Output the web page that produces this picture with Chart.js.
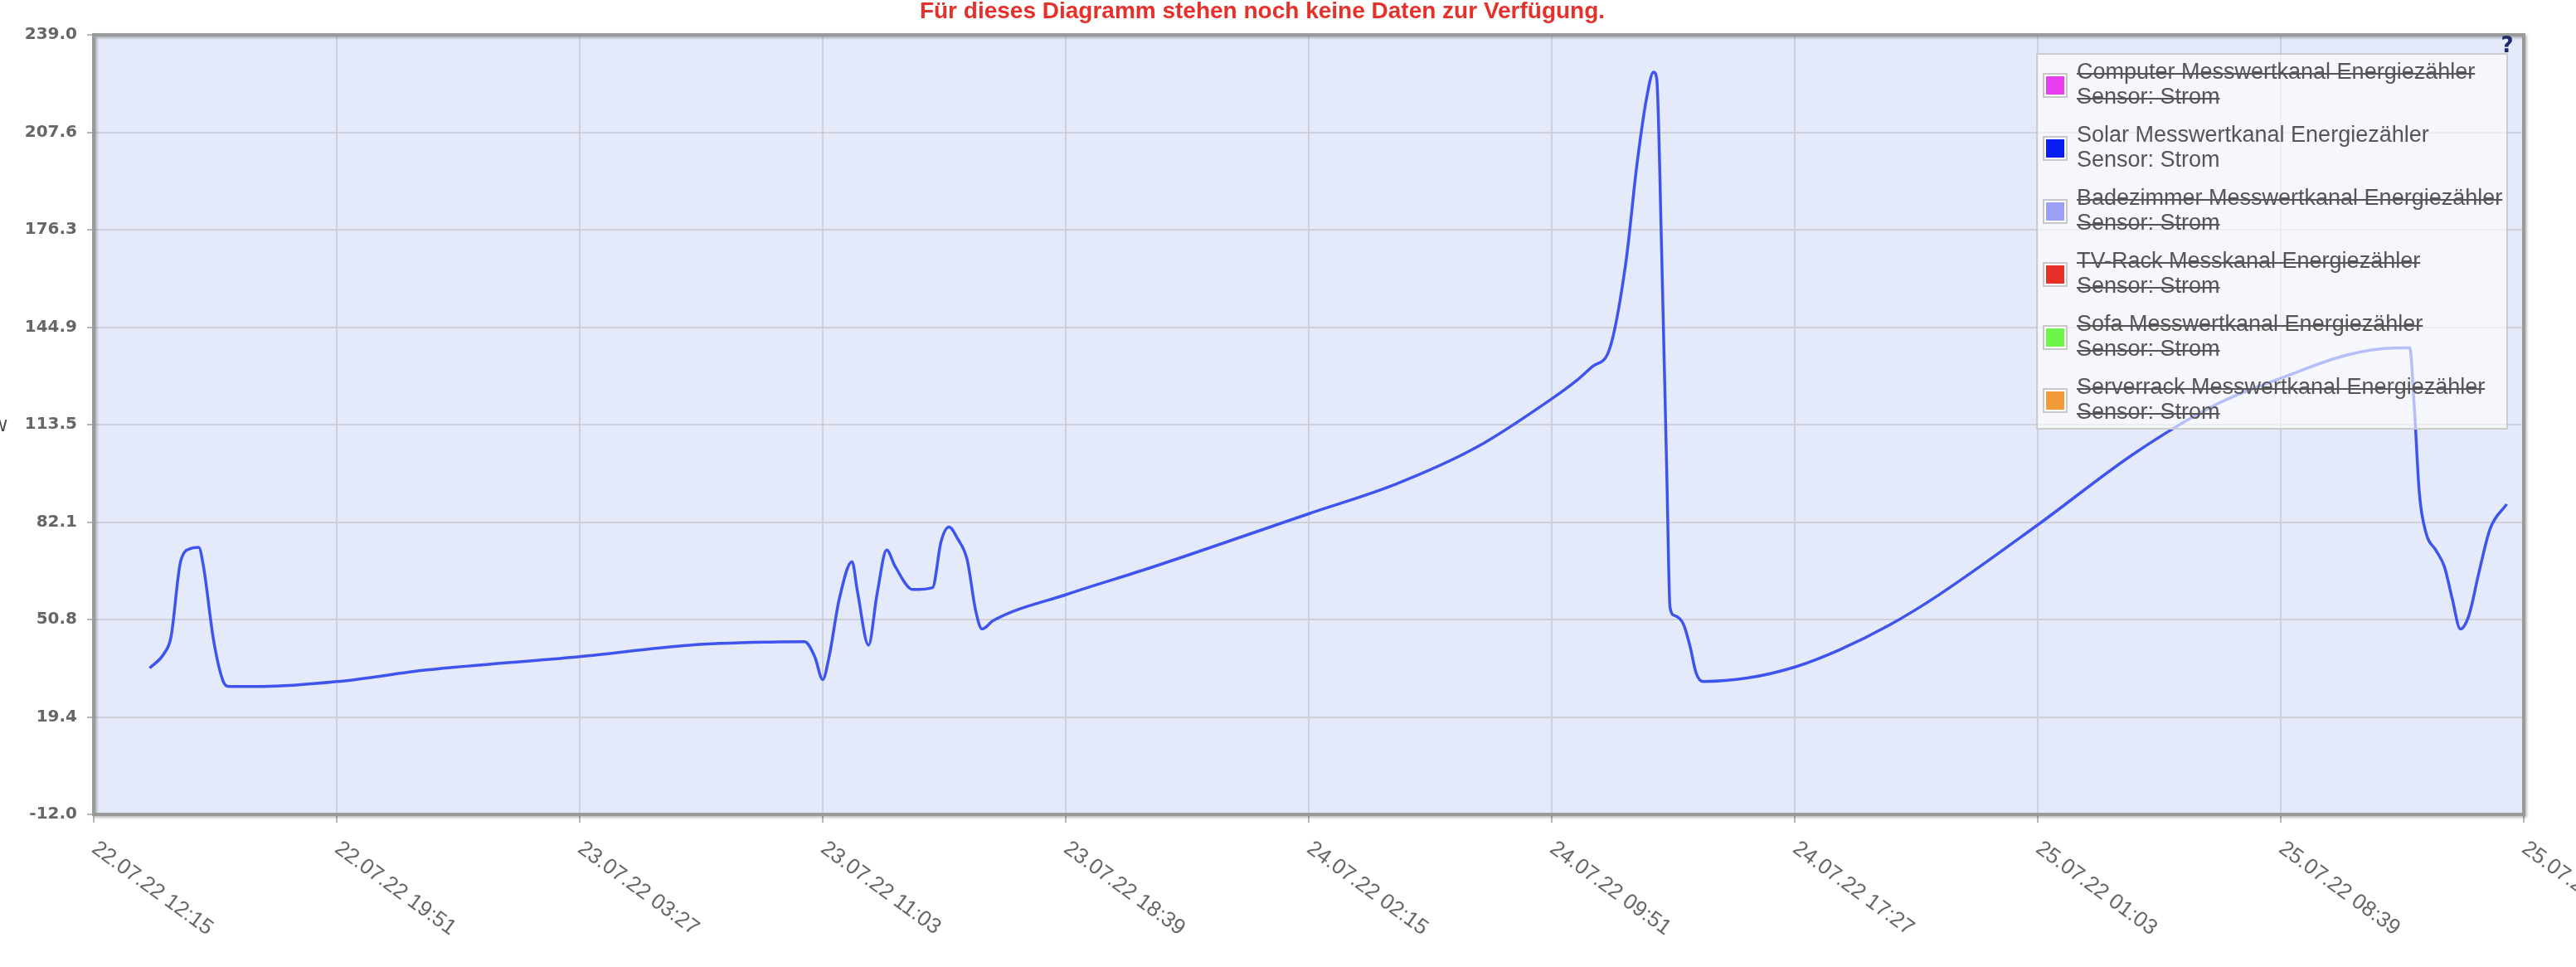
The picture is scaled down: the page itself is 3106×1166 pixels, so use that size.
<!DOCTYPE html>
<html>
<head>
<meta charset="utf-8">
<title>Energiezähler</title>
<script src="https://cdn.jsdelivr.net/npm/chart.js@4.4.0/dist/chart.umd.min.js"></script>
<style>
  html, body { margin: 0; padding: 0; background: #fff; overflow: hidden; }
  #chart { display: block; }
</style>
</head>
<body>
<canvas id="chart" width="3106" height="1166"></canvas>
<script>
// Solar channel, power in W
const times = [
  '22.07.22 14:00', '22.07.22 14:27', '22.07.22 14:40', '22.07.22 14:58', '22.07.22 15:17',
  '22.07.22 15:32', '22.07.22 15:41', '22.07.22 16:00', '22.07.22 16:18', '22.07.22 16:28',
  '22.07.22 17:32', '22.07.22 19:54', '22.07.22 22:40', '23.07.22 03:27', '23.07.22 06:53',
  '23.07.22 09:27', '23.07.22 10:29', '23.07.22 10:48', '23.07.22 11:03', '23.07.22 11:15',
  '23.07.22 11:34', '23.07.22 11:58', '23.07.22 12:08', '23.07.22 12:29', '23.07.22 12:45',
  '23.07.22 13:03', '23.07.22 13:19', '23.07.22 13:52', '23.07.22 14:29', '23.07.22 14:45',
  '23.07.22 15:00', '23.07.22 15:16', '23.07.22 15:34', '23.07.22 15:50', '23.07.22 16:02',
  '23.07.22 16:23', '23.07.22 18:42', '23.07.22 21:16', '24.07.22 02:15', '24.07.22 04:58',
  '24.07.22 07:32', '24.07.22 09:51', '24.07.22 10:37', '24.07.22 11:08', '24.07.22 11:39',
  '24.07.22 12:10', '24.07.22 12:31', '24.07.22 12:50', '24.07.22 13:02', '24.07.22 13:08',
  '24.07.22 13:17', '24.07.22 13:27', '24.07.22 13:33', '24.07.22 13:42', '24.07.22 13:58',
  '24.07.22 14:10', '24.07.22 14:22', '24.07.22 14:35', '24.07.22 15:58', '24.07.22 17:30',
  '24.07.22 18:50', '24.07.22 20:23', '24.07.22 21:55', '25.07.22 01:06', '25.07.22 04:05',
  '25.07.22 06:39', '25.07.22 08:42', '25.07.22 10:45', '25.07.22 12:18', '25.07.22 12:41',
  '25.07.22 12:50', '25.07.22 12:59', '25.07.22 13:12', '25.07.22 13:30', '25.07.22 13:46',
  '25.07.22 14:01', '25.07.22 14:16', '25.07.22 14:32', '25.07.22 14:50', '25.07.22 15:12',
  '25.07.22 15:43'
];
const solarValues = [
  35.1, 39.8, 45.1, 69.4, 73.6,
  74.0, 67.8, 44.0, 30.8, 29.2,
  29.2, 30.8, 34.5, 38.8, 42.5,
  43.5, 43.6, 38.8, 31.4, 38.8,
  57.3, 69.4, 60.0, 42.5, 59.0,
  73.1, 67.8, 60.4, 61.0, 75.8,
  80.5, 76.8, 70.0, 53.6, 47.7,
  50.4, 58.9, 67.3, 84.8, 94.3,
  106.4, 121.8, 127.6, 132.3, 137.6,
  165.6, 197.4, 219.6, 227.0, 224.9,
  171.0, 96.9, 54.6, 52.0, 49.3,
  42.5, 33.5, 30.8, 31.9, 35.6,
  40.9, 48.8, 58.4, 81.6, 104.3,
  120.1, 128.6, 136.0, 138.2, 138.2,
  118.0, 91.6, 78.4, 73.1, 67.8,
  57.3, 47.7, 52.0, 65.2, 80.0,
  87.9
];

const xTickLabels = [
  '22.07.22 12:15', '22.07.22 19:51', '23.07.22 03:27', '23.07.22 11:03',
  '23.07.22 18:39', '24.07.22 02:15', '24.07.22 09:51', '24.07.22 17:27',
  '25.07.22 01:03', '25.07.22 08:39', '25.07.22 16:15'
];
const yTickLabels = ['-12.0', '19.4', '50.8', '82.1', '113.5', '144.9', '176.3', '207.6', '239.0'];
const yMin = -12.0;
const yMax = 239.0;

const seriesNames = [
  'Computer Messwertkanal Energiezähler',
  'Solar Messwertkanal Energiezähler',
  'Badezimmer Messwertkanal Energiezähler',
  'TV-Rack Messkanal Energiezähler',
  'Sofa Messwertkanal Energiezähler',
  'Serverrack Messwertkanal Energiezähler'
];
const seriesColors = ['#e83ef0', '#0a1cf5', '#9aa0f5', '#e8302a', '#6ef54a', '#f09a3a'];
const seriesHidden = [true, false, true, true, true, true];
const sensorLabel = 'Sensor: Strom';

// "dd.mm.yy hh:mm" -> minutes, all dates are in the same month
function toMinutes(s) {
  const [d, t] = s.split(' ');
  const day = parseInt(d.split('.')[0], 10);
  const [h, m] = t.split(':').map(Number);
  return day * 1440 + h * 60 + m;
}
const t0 = toMinutes(xTickLabels[0]);
const span = toMinutes(xTickLabels[xTickLabels.length - 1]) - t0;

const solarPoints = times.map((t, i) => ({ x: toMinutes(t) - t0, y: solarValues[i] }));

const datasets = seriesNames.map((name, i) => ({
  label: name,
  data: i === 1 ? solarPoints : [],
  hidden: seriesHidden[i],
  borderColor: i === 1 ? 'rgb(62,84,238)' : seriesColors[i],
  backgroundColor: seriesColors[i],
  borderWidth: 3.5,
  pointRadius: 0,
  cubicInterpolationMode: 'monotone',
  fill: false
}));

const plotDecor = {
  id: 'plotDecor',
  beforeDraw(chart) {
    const { ctx, chartArea: a } = chart;
    ctx.save();
    ctx.fillStyle = '#e5eafa';
    ctx.fillRect(a.left, a.top, a.width, a.height);
    ctx.restore();
  },
  afterDatasetsDraw(chart) {
    const { ctx, chartArea: a } = chart;
    const lx = a.right - 587, ly = a.top + 23, lw = 567, lh = 452;
    ctx.save();
    ctx.fillStyle = 'rgba(255,255,255,0.62)';
    ctx.fillRect(lx, ly, lw, lh);
    ctx.strokeStyle = '#cccccc';
    ctx.lineWidth = 2;
    ctx.strokeRect(lx, ly, lw, lh);

    ctx.font = '27px "Liberation Sans", Arial, sans-serif';
    ctx.textBaseline = 'middle';
    ctx.textAlign = 'left';
    chart.data.datasets.forEach((ds, i) => {
      const cy = ly + 38 + i * 76;
      // swatch
      ctx.fillStyle = '#ffffff';
      ctx.fillRect(lx + 8, cy - 14, 28, 28);
      ctx.strokeStyle = '#c8c8c8';
      ctx.lineWidth = 2;
      ctx.strokeRect(lx + 8, cy - 14, 28, 28);
      ctx.fillStyle = seriesColors[i];
      ctx.fillRect(lx + 11, cy - 11, 22, 22);
      // text
      const tx = lx + 48;
      const lines = [ds.label, sensorLabel];
      lines.forEach((txt, k) => {
        const ty = cy - 15 + k * 30;
        ctx.fillStyle = '#555555';
        ctx.fillText(txt, tx, ty);
        if (!chart.isDatasetVisible(i)) {
          const w = ctx.measureText(txt).width;
          ctx.fillRect(tx, ty, w, 2);
        }
      });
    });
    ctx.restore();
  },
  afterDraw(chart) {
    const { ctx, chartArea: a } = chart;
    ctx.save();
    // plot frame
    ctx.shadowColor = 'rgba(0,0,0,0.25)';
    ctx.shadowBlur = 3;
    ctx.shadowOffsetX = 2;
    ctx.shadowOffsetY = 2;
    ctx.strokeStyle = '#9a9a9a';
    ctx.lineWidth = 4;
    ctx.strokeRect(a.left, a.top, a.width, a.height);
    ctx.restore();

    // rotated x labels
    const xs = chart.scales.x;
    ctx.save();
    ctx.font = '26px "Liberation Sans", Arial, sans-serif';
    ctx.fillStyle = '#666666';
    ctx.textAlign = 'left';
    ctx.textBaseline = 'top';
    xs.ticks.forEach((t, i) => {
      const px = xs.getPixelForTick(i);
      ctx.save();
      ctx.translate(px + 8, a.bottom + 28);
      ctx.rotate(36 * Math.PI / 180);
      ctx.fillText(xTickLabels[i], 0, 0);
      ctx.restore();
    });
    ctx.restore();

    // message, help mark, unit
    ctx.save();
    ctx.font = 'bold 28px "Liberation Sans", Arial, sans-serif';
    ctx.fillStyle = '#e8302a';
    ctx.textAlign = 'center';
    ctx.textBaseline = 'alphabetic';
    ctx.fillText('Für dieses Diagramm stehen noch keine Daten zur Verfügung.', 1522, 22);

    ctx.font = 'bold 26px "DejaVu Sans", sans-serif';
    ctx.fillStyle = '#1c2a6e';
    ctx.textBaseline = 'middle';
    ctx.fillText('?', a.right - 20, a.top + 14);

    ctx.font = '20px "DejaVu Sans", sans-serif';
    ctx.fillStyle = '#444444';
    ctx.textAlign = 'right';
    ctx.fillText('W', 9, (a.top + a.bottom) / 2 + 3);
    ctx.restore();
  }
};

new Chart(document.getElementById('chart'), {
  type: 'line',
  data: { datasets: datasets },
  options: {
    responsive: false,
    animation: false,
    events: [],
    devicePixelRatio: 1,
    layout: { padding: { top: 42, right: 63, left: 0, bottom: 0 } },
    plugins: {
      legend: { display: false },
      tooltip: { enabled: false },
      title: { display: false }
    },
    scales: {
      x: {
        type: 'linear',
        min: 0,
        max: span,
        ticks: { display: false, stepSize: span / (xTickLabels.length - 1) },
        grid: { color: '#d0d0d8', lineWidth: 2, tickLength: 10, tickColor: '#b8b8b8' },
        border: { display: false },
        afterFit(s) { s.height = 184; }
      },
      y: {
        min: yMin,
        max: yMax,
        ticks: {
          stepSize: (yMax - yMin) / (yTickLabels.length - 1),
          color: '#666666',
          padding: 12,
          font: { family: '"DejaVu Sans", sans-serif', size: 20, weight: 'bold' },
          callback: (v, i) => yTickLabels[i]
        },
        grid: { color: '#d0d0d8', lineWidth: 2, tickLength: 8, tickColor: '#b8b8b8' },
        border: { display: false },
        afterFit(s) { s.width = 113; }
      }
    }
  },
  plugins: [plotDecor]
});
</script>
</body>
</html>
